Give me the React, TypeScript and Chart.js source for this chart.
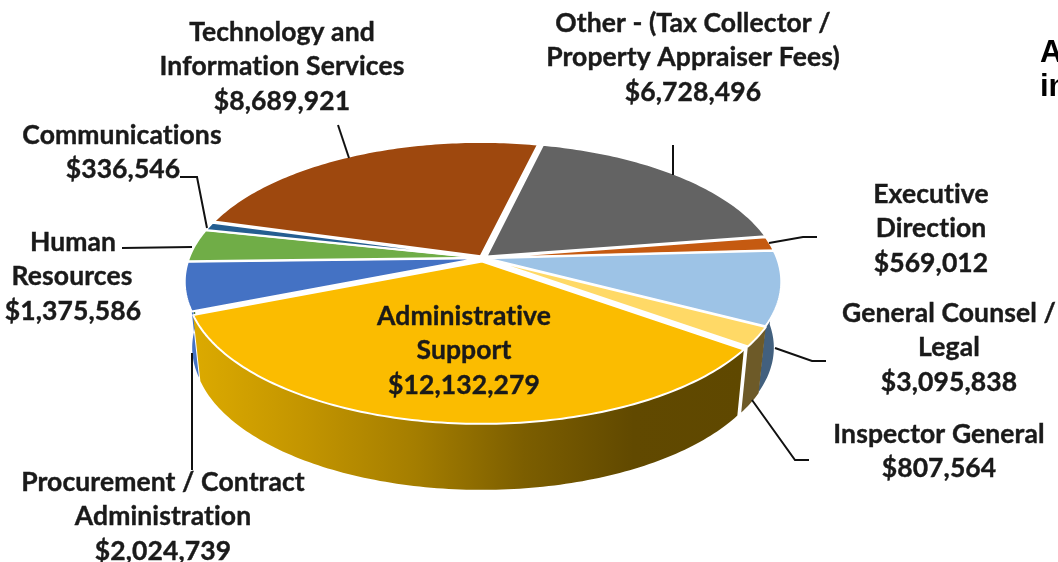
import React, { useEffect, useRef } from "react";
import { Chart, registerables } from "chart.js";

Chart.register(...registerables);

// Budget categories in clockwise order, starting at the largest slice.
const categories = [
  "Administrative Support",
  "Procurement / Contract Administration",
  "Human Resources",
  "Communications",
  "Technology and Information Services",
  "Other - (Tax Collector / Property Appraiser Fees)",
  "Executive Direction",
  "General Counsel / Legal",
  "Inspector General",
];
const amounts = [12132279, 2024739, 1375586, 336546, 8689921, 6728496, 569012, 3095838, 807564];
const topColors = ["#FBBC00", "#4472C4", "#70AD47", "#255E91", "#9E480E", "#636363", "#C55A11", "#9DC3E6", "#FFD966"];
const sideColors = ["#000000", "#4472C4", "#4F7A32", "#1A4266", "#6F330A", "#464646", "#8A3F0C", "#42607E", "#6D5A28"];
const explode = [0.026, 0.012, 0.012, 0.012, 0.016, 0.016, 0.012, 0.012, 0.014];

const adminWallStops = ["#DCAA00", "#C39500", "#A57E00", "#7C5E00", "#614900", "#5F4800"];

// Text blocks: the last line of each block is the amount, added at draw time.
const labelLines: string[][] = [
  ["Administrative", "Support"],
  ["Procurement / Contract", "Administration"],
  ["Human", "Resources"],
  ["Communications"],
  ["Technology and", "Information Services"],
  ["Other - (Tax Collector /", "Property Appraiser Fees)"],
  ["Executive", "Direction"],
  ["General Counsel /", "Legal"],
  ["Inspector General"],
];
const labelAnchors = [
  { x: 464, y: 316, lines: [] as number[] },
  { x: 163, y: 482, lines: [] as number[] },
  { x: 73, y: 242, lines: [72, 73] },
  { x: 122, y: 135, lines: [123] },
  { x: 282, y: 32, lines: [] as number[] },
  { x: 693, y: 23, lines: [] as number[] },
  { x: 931, y: 194, lines: [] as number[] },
  { x: 949, y: 313, lines: [] as number[] },
  { x: 939, y: 434, lines: [] as number[] },
];
const leaderPaths: number[][][] = [
  [[192, 353], [192, 470]],
  [[122, 248], [192, 247]],
  [[180, 177], [197, 177], [207, 228]],
  [[338, 125], [349, 158]],
  [[673, 145], [673, 175]],
  [[817, 237], [803, 237], [769, 243]],
  [[826, 361], [812, 361], [775, 348]],
  [[809, 460], [795, 460], [752, 400]],
];
const cutOffHeading = ["A", "in"];

const PERSPECTIVE = 0.1673;
const TILT = 0.461;
const DEPTH = 66;
const BASE_SHRINK = 0.975;
const LABEL_FONT = "bold 26.5px Lato, 'Noto Sans', sans-serif";
const LINE_STEP = 34.7;

type Pt = [number, number];

const threeDPie = {
  id: "threeDPie",
  beforeDatasetsDraw(chart: any) {
    const { ctx } = chart;
    const arcs = chart.getDatasetMeta(0).data;
    if (!arcs.length) return false;
    const cx = arcs[0].x;
    const cy = arcs[0].y;
    const R = arcs[0].outerRadius;

    // Project a point of the unit disc onto the receding pie plane.
    const project = (u: number, v: number): Pt => {
      const s = 1 / (1 - PERSPECTIVE * v);
      return [cx + R * u * s, cy + R * TILT * v * s];
    };
    const lower = (p: Pt): Pt => [cx + (p[0] - cx) * BASE_SHRINK, p[1] + DEPTH];

    const slices = arcs.map((arc: any, i: number) => {
      const mid = (arc.startAngle + arc.endAngle) / 2;
      return {
        i,
        start: arc.startAngle,
        end: arc.endAngle,
        mid,
        dx: explode[i] * Math.cos(mid),
        dy: explode[i] * Math.sin(mid),
        fill: arc.options.backgroundColor,
      };
    });

    const rim = (s: any, from: number, to: number): Pt[] => {
      const n = Math.max(2, Math.ceil(((to - from) * 180) / Math.PI));
      const pts: Pt[] = [];
      for (let k = 0; k <= n; k++) {
        const a = from + ((to - from) * k) / n;
        pts.push(project(Math.cos(a) + s.dx, Math.sin(a) + s.dy));
      }
      return pts;
    };
    const trace = (pts: Pt[]) => {
      ctx.beginPath();
      pts.forEach((p, k) => (k ? ctx.lineTo(p[0], p[1]) : ctx.moveTo(p[0], p[1])));
      ctx.closePath();
    };

    ctx.save();
    // Outer walls, furthest first, limited to the part that faces the viewer.
    const twoPi = Math.PI * 2;
    [...slices]
      .sort((a, b) => Math.sin(a.mid) - Math.sin(b.mid))
      .forEach((s: any) => {
        const turn = Math.floor(s.start / twoPi);
        for (const shift of [turn, turn + 1, turn - 1]) {
          const from = Math.max(s.start, shift * twoPi);
          const to = Math.min(s.end, shift * twoPi + Math.PI);
          if (to <= from) continue;
          const top = rim(s, from, to);
          const base = top.map(lower).reverse();
          trace([...top, ...base]);
          if (s.i === 0) {
            const xs = top.map((p) => p[0]);
            const g = ctx.createLinearGradient(Math.max(...xs), 0, Math.min(...xs), 0);
            adminWallStops
              .slice()
              .reverse()
              .forEach((c, k, all) => g.addColorStop(k / (all.length - 1), c));
            ctx.fillStyle = g;
          } else {
            ctx.fillStyle = sideColors[s.i];
          }
          ctx.fill();
        }
      });

    // Top faces with their white outlines.
    slices.forEach((s: any) => {
      trace([project(s.dx, s.dy), ...rim(s, s.start, s.end)]);
      ctx.fillStyle = s.fill;
      ctx.fill();
      ctx.strokeStyle = "#FFFFFF";
      ctx.lineWidth = 2;
      ctx.lineJoin = "round";
      ctx.stroke();
    });
    ctx.restore();
    return false;
  },
  afterDraw(chart: any) {
    const { ctx } = chart;
    ctx.save();
    ctx.strokeStyle = "#111111";
    ctx.lineWidth = 2;
    leaderPaths.forEach((path) => {
      ctx.beginPath();
      path.forEach((p, k) => (k ? ctx.lineTo(p[0], p[1]) : ctx.moveTo(p[0], p[1])));
      ctx.stroke();
    });

    ctx.font = LABEL_FONT;
    ctx.letterSpacing = "0.1px";
    ctx.fillStyle = "#1A1A1A";
    ctx.strokeStyle = "#1A1A1A";
    ctx.lineWidth = 0.4;
    ctx.textAlign = "center";
    ctx.textBaseline = "middle";
    amounts.forEach((value, i) => {
      const lines = [...labelLines[i], "$" + value.toLocaleString("en-US")];
      const anchor = labelAnchors[i];
      lines.forEach((line, k) => {
        const x = k > 0 && anchor.lines[k - 1] !== undefined ? anchor.lines[k - 1] : anchor.x;
        ctx.fillText(line, x, anchor.y + k * LINE_STEP);
        ctx.strokeText(line, x, anchor.y + k * LINE_STEP);
      });
    });

    ctx.letterSpacing = "0px";
    ctx.font = "bold 31px 'Liberation Sans', Arial, sans-serif";
    ctx.fillStyle = "#000000";
    ctx.textAlign = "left";
    ctx.textBaseline = "alphabetic";
    cutOffHeading.forEach((line, k) => ctx.fillText(line, 1040, 62 + k * 34));
    ctx.restore();
  },
};

export default function App() {
  const canvasRef = useRef<HTMLCanvasElement>(null);

  useEffect(() => {
    const chart = new Chart(canvasRef.current as HTMLCanvasElement, {
      type: "pie",
      data: {
        labels: categories,
        datasets: [{ data: amounts, backgroundColor: topColors }],
      },
      options: {
        responsive: false,
        animation: false,
        rotation: 126,
        radius: 290.5,
        layout: { padding: { left: 0, top: 0, right: 92, bottom: 46 } },
        plugins: { legend: { display: false }, tooltip: { enabled: false } },
      },
      plugins: [threeDPie],
    } as any);
    return () => chart.destroy();
  }, []);

  return (
    <div style={{ position: "absolute", left: 0, top: 0, width: 1058, height: 562, background: "#FFFFFF", overflow: "hidden" }}>
      <canvas ref={canvasRef} width={1058} height={562} style={{ display: "block" }} />
    </div>
  );
}
